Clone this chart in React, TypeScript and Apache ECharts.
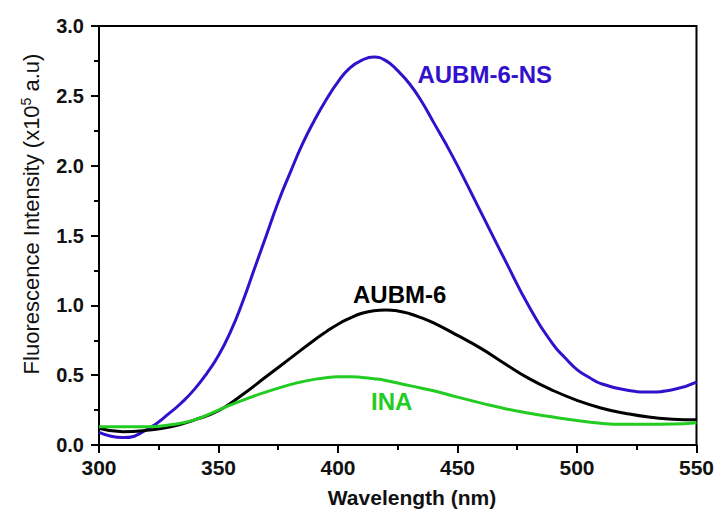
import React, { useEffect, useRef } from "react";
import * as echarts from "echarts";

const nsWavelength = [300, 310, 320, 330, 335, 340, 345, 350, 355, 360, 365, 370, 375, 380, 385, 390, 395, 400, 405, 410, 415, 420, 425, 430, 435, 440, 445, 450, 460, 470, 480, 490, 495, 500, 505, 510, 520, 530, 540, 550];
const nsIntensity = [0.09, 0.053, 0.11, 0.235, 0.31, 0.40, 0.51, 0.64, 0.81, 1.02, 1.26, 1.50, 1.74, 1.95, 2.15, 2.32, 2.47, 2.60, 2.70, 2.755, 2.778, 2.752, 2.68, 2.585, 2.46, 2.31, 2.16, 2.00, 1.66, 1.32, 0.99, 0.72, 0.625, 0.54, 0.485, 0.44, 0.395, 0.38, 0.395, 0.45];
const aubmWavelength = [300, 310, 320, 330, 340, 350, 360, 370, 380, 390, 395, 400, 405, 410, 415, 420, 425, 430, 435, 440, 450, 460, 470, 480, 490, 500, 510, 520, 530, 540, 550];
const aubmIntensity = [0.12, 0.095, 0.105, 0.13, 0.18, 0.245, 0.36, 0.49, 0.62, 0.75, 0.81, 0.865, 0.908, 0.943, 0.962, 0.967, 0.96, 0.94, 0.91, 0.874, 0.785, 0.69, 0.58, 0.475, 0.39, 0.32, 0.265, 0.228, 0.20, 0.185, 0.18];
const inaWavelength = [300, 310, 320, 330, 340, 350, 360, 370, 380, 385, 390, 395, 400, 405, 410, 415, 420, 430, 440, 450, 460, 470, 480, 490, 500, 510, 520, 530, 540, 550];
const inaIntensity = [0.13, 0.13, 0.13, 0.145, 0.18, 0.25, 0.32, 0.38, 0.432, 0.453, 0.47, 0.482, 0.488, 0.489, 0.484, 0.475, 0.462, 0.425, 0.388, 0.343, 0.30, 0.26, 0.228, 0.20, 0.175, 0.155, 0.148, 0.148, 0.15, 0.16];

const seriesNames = ["AUBM-6-NS", "AUBM-6", "INA"];
const seriesColors = ["#3311cc", "#000000", "#22cc22"];
const labelAnchors: [number, number][] = [[461.4, 2.656], [425.8, 1.074], [422.5, 0.308]];

const xTitle = "Wavelength (nm)";
const yTitle = "Fluorescence Intensity (x10{sup|5} a.u)";

export default function App() {
  const ref = useRef<HTMLDivElement>(null);
  useEffect(() => {
    if (!ref.current) return;
    const chart = echarts.init(ref.current, null, { renderer: "svg" });
    const xs = [nsWavelength, aubmWavelength, inaWavelength];
    const ys = [nsIntensity, aubmIntensity, inaIntensity];
    const font = "Liberation Sans, Arial, sans-serif";
    chart.setOption({
      animation: false,
      backgroundColor: "#ffffff",
      grid: {
        left: 99,
        right: 20,
        top: 26,
        bottom: 64,
        show: true,
        borderColor: "#000",
        borderWidth: 2,
        backgroundColor: "transparent",
      },
      xAxis: {
        type: "value",
        min: 300,
        max: 550,
        interval: 50,
        axisLine: { show: true, onZero: false, lineStyle: { color: "#000", width: 2 } },
        axisTick: { show: true, inside: false, length: 8, lineStyle: { color: "#000", width: 2 } },
        minorTick: { show: true, splitNumber: 2, length: 5, lineStyle: { color: "#000", width: 2 } },
        splitLine: { show: false },
        axisLabel: { fontSize: 21, fontWeight: "bold", color: "#111", fontFamily: font, margin: 12 },
      },
      yAxis: {
        type: "value",
        min: 0,
        max: 3,
        interval: 0.5,
        axisLine: { show: true, onZero: false, lineStyle: { color: "#000", width: 2 } },
        axisTick: { show: true, inside: false, length: 8, lineStyle: { color: "#000", width: 2 } },
        minorTick: { show: true, splitNumber: 2, length: 5, lineStyle: { color: "#000", width: 2 } },
        splitLine: { show: false },
        axisLabel: {
          fontSize: 20,
          fontWeight: "bold",
          color: "#111",
          fontFamily: font,
          margin: 15,
          formatter: (v: number) => v.toFixed(1),
        },
      },
      series: seriesNames.map((name, i) => ({
        name,
        type: "line",
        smooth: 0.5,
        showSymbol: false,
        symbol: "none",
        lineStyle: { color: seriesColors[i], width: 3 },
        data: xs[i].map((w, j) => [w, ys[i][j]]),
        markPoint: {
          symbol: "circle",
          symbolSize: 0,
          data: [{ coord: labelAnchors[i] }],
          label: {
            show: true,
            position: "inside",
            formatter: name,
            color: seriesColors[i],
            fontSize: 24,
            fontWeight: "bold",
            fontFamily: font,
          },
        },
      })),
      graphic: [
        {
          type: "text",
          x: 412,
          y: 497,
          style: {
            text: xTitle,
            fill: "#111",
            font: `bold 21px ${font}`,
            align: "center",
            verticalAlign: "middle",
          },
        },
        {
          type: "text",
          x: 31,
          y: 214,
          rotation: Math.PI / 2,
          style: {
            text: yTitle,
            fill: "#111",
            font: `22px ${font}`,
            align: "center",
            verticalAlign: "middle",
            rich: {
              sup: { fontSize: 14, verticalAlign: "top", padding: [0, 0, 10, 0], fill: "#111", fontFamily: font },
            },
          },
        },
      ],
    });
    return () => chart.dispose();
  }, []);
  return <div ref={ref} style={{ position: "absolute", left: 0, top: 0, width: 717, height: 509 }} />;
}
